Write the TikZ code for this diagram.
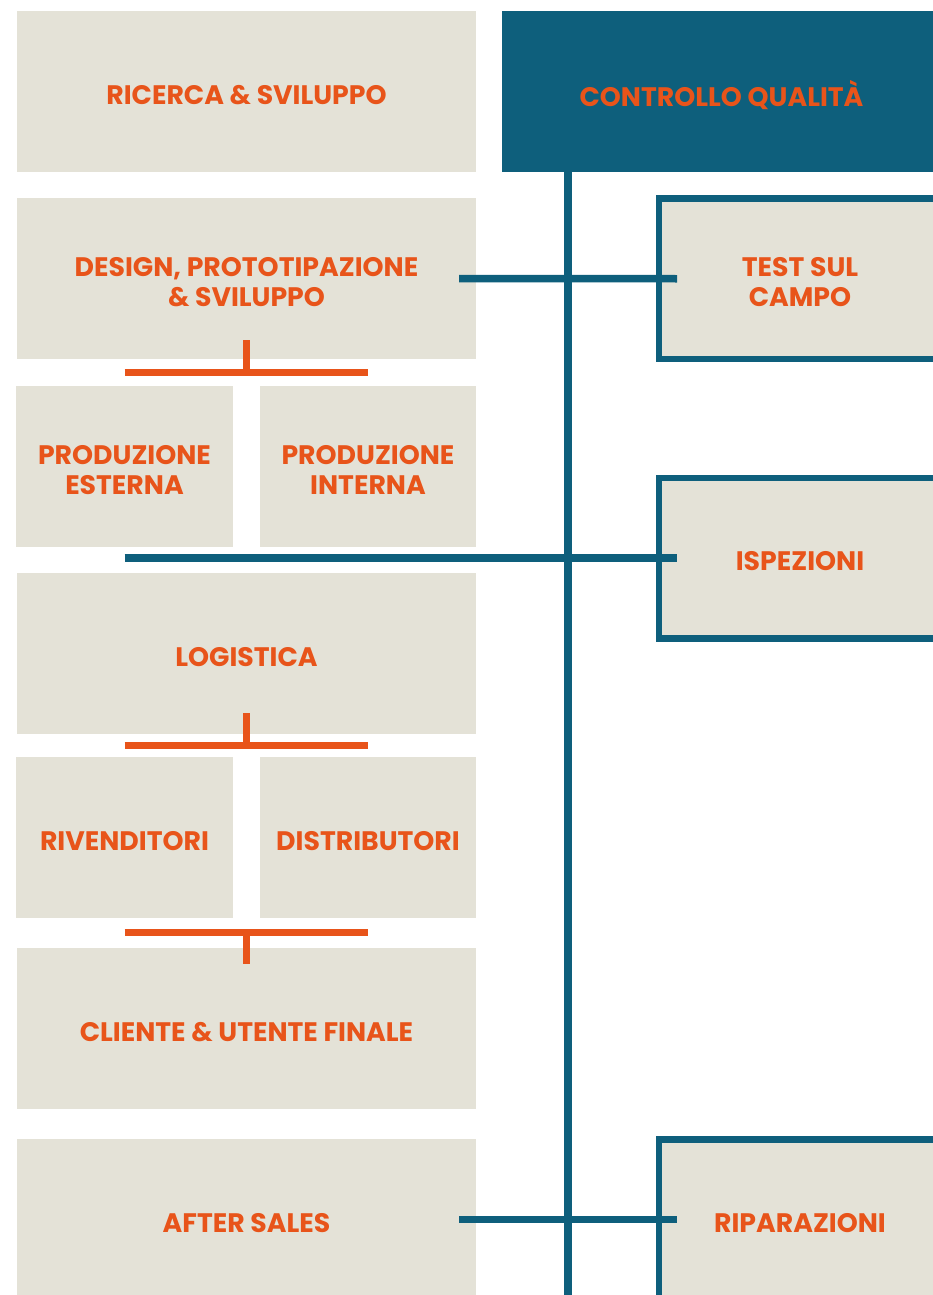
\documentclass[tikz,border=0pt]{standalone}
\usepackage{fontspec}
\setmainfont{Poppins}
\usetikzlibrary{calc}

\definecolor{sand}{HTML}{E4E2D7}
\definecolor{petrol}{HTML}{0E5F7C}
\definecolor{flame}{HTML}{E8541A}

\tikzset{
  x=1pt, y=-1pt,
  label text/.style={text=flame, font=\fontsize{26.75}{30}\selectfont\bfseries, align=center, inner sep=0pt, yshift=-3.5pt},
  caption/.style={label={[label text]center:#1}},
  stage/.style={fill=sand, draw=none, inner sep=0pt, outer sep=0pt, minimum width=459pt, minimum height=161pt},
  halfstage/.style={stage, minimum width=216.5pt},
  qbox/.style={fill=sand, draw=petrol, line width=6.5pt, inner sep=0pt, outer sep=0pt, minimum width=282pt, minimum height=160.5pt},
  headbox/.style={fill=petrol, draw=none, inner sep=0pt, outer sep=0pt, minimum width=439pt, minimum height=161pt},
  bluebar/.style={draw=petrol, line width=7.5pt},
  orangebar/.style={draw=flame, line width=7pt},
}

\begin{document}
\begin{tikzpicture}
  \useasboundingbox[fill=white] (0,0) rectangle (932,1295);

  % main process column
  \node[stage, caption={RICERCA \& SVILUPPO}] (rs) at (246.5, 91.5) {};
  \node[stage, caption={DESIGN, PROTOTIPAZIONE\\\& SVILUPPO}] (design) at (246.5, 278.5) {};
  \node[halfstage, caption={PRODUZIONE\\ESTERNA}] (prodE) at (124.5, 466.5) {};
  \node[halfstage, caption={PRODUZIONE\\INTERNA}] (prodI) at (368, 466.5) {};
  \node[stage, caption={LOGISTICA}] (logi) at (246.5, 653.5) {};
  \node[halfstage, caption={RIVENDITORI}] (riv) at (124.5, 837.5) {};
  \node[halfstage, caption={DISTRIBUTORI}] (dist) at (368, 837.5) {};
  \node[stage, caption={CLIENTE \& UTENTE FINALE}] (client) at (246.5, 1028.5) {};
  \node[stage, caption={AFTER SALES}] (after) at (246.5, 1219.5) {};

  % quality control column
  \node[headbox, caption={CONTROLLO QUALITÀ}] (cq) at (721.5, 91.5) {};
  \node[qbox, caption={TEST SUL\\CAMPO}] (test) at (800, 278.75) {};
  \node[qbox, caption={ISPEZIONI}] (insp) at (800, 558) {};
  \node[qbox, caption={RIPARAZIONI}] (repair) at (800, 1219.5) {};

  % quality trunk
  \coordinate (trunkEnd) at (568, 1295);
  \draw[bluebar] (trunkEnd |- cq.south) -- (trunkEnd);

  % links into the quality column
  \draw[bluebar] ([xshift=-17pt]design.east) -- ([xshift=18pt]test.west);
  \draw[bluebar] (prodE.center |- insp.west) -- ([xshift=18pt]insp.west);
  \draw[bluebar] ([xshift=-17pt]after.east) -- ([xshift=18pt]repair.west);

  % branching between process stages
  \coordinate (t1top) at (246, 340);
  \coordinate (t1mid) at (246, 372.5);
  \draw[orangebar] (t1top) -- (t1mid);
  \draw[orangebar] (prodE.center |- t1mid) -- (prodI.center |- t1mid);

  \coordinate (t2top) at (246, 713);
  \coordinate (t2mid) at (246, 745);
  \draw[orangebar] (t2top) -- (t2mid);
  \draw[orangebar] (riv.center |- t2mid) -- (dist.center |- t2mid);

  \coordinate (t3mid) at (246, 932.5);
  \coordinate (t3bot) at (246, 964);
  \draw[orangebar] (riv.center |- t3mid) -- (dist.center |- t3mid);
  \draw[orangebar] (t3mid) -- (t3bot);
\end{tikzpicture}
\end{document}
